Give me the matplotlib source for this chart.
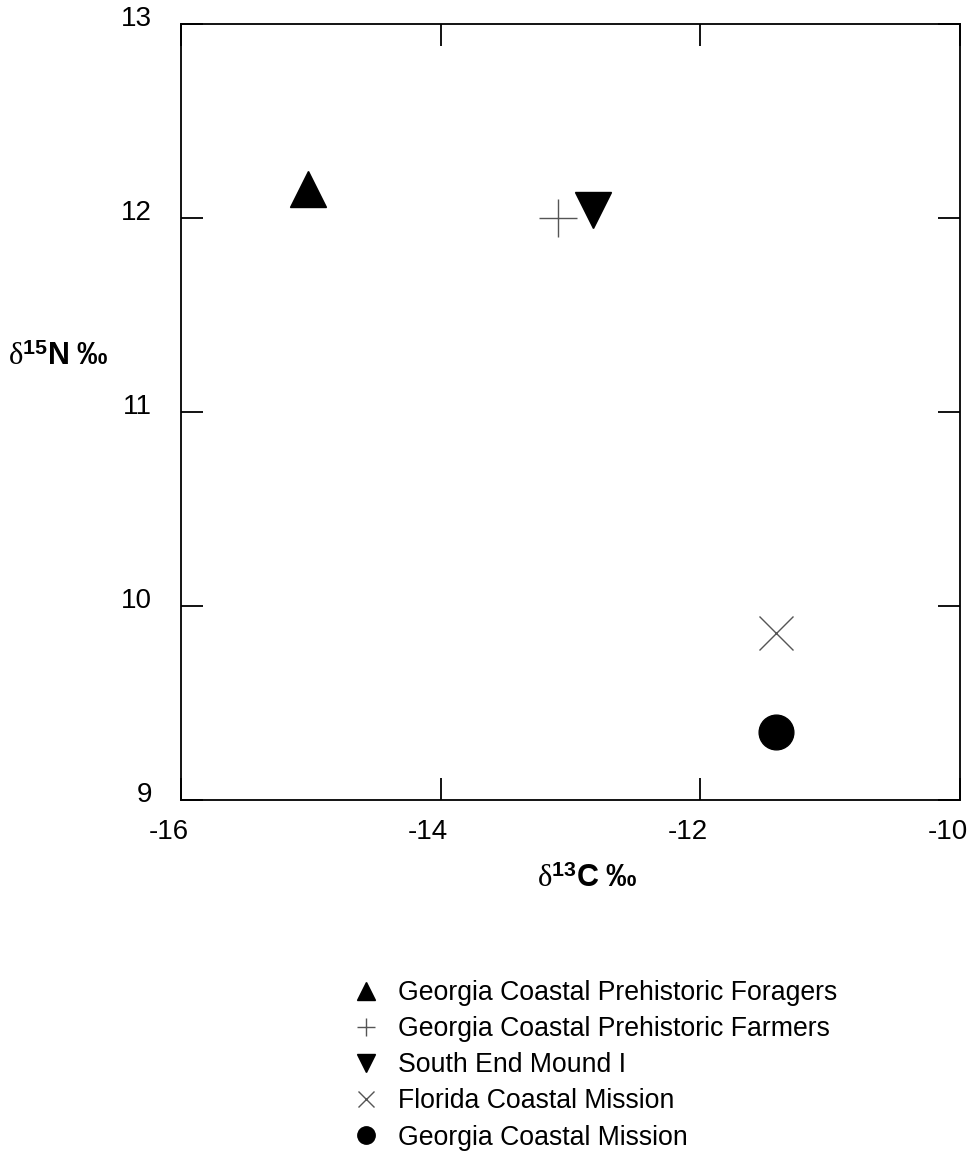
import matplotlib
matplotlib.use("Agg")
import matplotlib.pyplot as plt
import matplotlib.transforms as mtransforms
from matplotlib.lines import Line2D

plt.rcParams['font.family'] = ['Liberation Sans', 'DejaVu Sans']
plt.rcParams['mathtext.fontset'] = 'custom'
plt.rcParams['mathtext.rm'] = 'Liberation Serif'
plt.rcParams['mathtext.bf'] = 'Liberation Sans:bold'
plt.rcParams['mathtext.it'] = 'Liberation Serif:italic'
plt.rcParams['axes.unicode_minus'] = False

# dados
grupos = ['Georgia Coastal Prehistoric Foragers',
          'Georgia Coastal Prehistoric Farmers',
          'South End Mound I',
          'Florida Coastal Mission',
          'Georgia Coastal Mission']
d13c = [-15.02, -13.10, -12.83, -11.42, -11.42]
d15n = [12.15, 12.00, 12.04, 9.86, 9.35]

marcadores = ['^', '+', 'v', 'x', 'o']
cores = ['black', '#555555', 'black', '#555555', 'black']
tamanhos = [26, 27, 26, 24, 25]

fig = plt.figure(figsize=(9.78, 11.62), dpi=100)
ax = fig.add_axes([181/978, 1 - 800/1162, 779/978, 776/1162])

for i in range(len(grupos)):
    ax.plot(d13c[i], d15n[i], linestyle='none', marker=marcadores[i],
            color=cores[i], markersize=tamanhos[i], markeredgewidth=1,
            label=grupos[i])

ax.set_xlim(-16, -10)
ax.set_ylim(9, 13)
ax.set_xticks([-16, -14, -12, -10])
ax.set_yticks([9, 10, 11, 12, 13])
ax.tick_params(direction='in', length=16, width=1.3, top=True, right=True,
               labelsize=20)
ax.tick_params(axis='y', pad=21)
ax.tick_params(axis='x', pad=14)
for s in ax.spines.values():
    s.set_linewidth(1.3)

# rotulos dos ticks um pouco deslocados como no original
desl_y = mtransforms.ScaledTranslation(0, 6/72, fig.dpi_scale_trans)
for lab in ax.get_yticklabels():
    lab.set_transform(lab.get_transform() + desl_y)
desl_x = mtransforms.ScaledTranslation(-9/72, 0, fig.dpi_scale_trans)
for lab in ax.get_xticklabels():
    lab.set_transform(lab.get_transform() + desl_x)

fig.text(58/978, 1 - 357/1162, r'$\mathrm{\delta}^{\mathbf{15}}\mathbf{N\ ‰}$',
         fontsize=22, ha='center', va='center')
fig.text(587/978, 1 - 879/1162, r'$\mathrm{\delta}^{\mathbf{13}}\mathbf{C\ ‰}$',
         fontsize=22, ha='center', va='center')

# legenda com marcadores menores
handles = []
for i in range(len(grupos)):
    handles.append(Line2D([], [], linestyle='none', marker=marcadores[i],
                          color=cores[i], markersize=tamanhos[i] * 0.5,
                          markeredgewidth=1, label=grupos[i]))
fig.legend(handles=handles, loc='upper left', bbox_to_anchor=(357/978, 1 - 980/1162),
           frameon=False, fontsize=19.2, handlelength=0.7, handletextpad=0.85,
           labelspacing=0.38, borderaxespad=0, borderpad=0)

fig.savefig('out.png', dpi=100)
